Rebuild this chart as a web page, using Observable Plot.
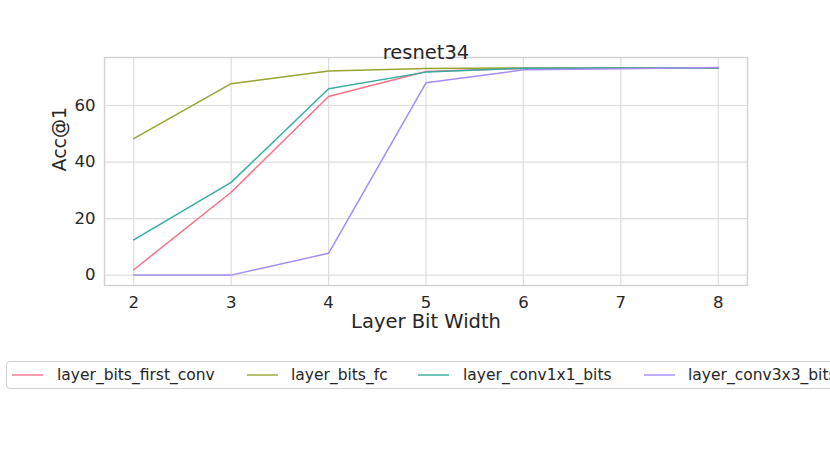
<!DOCTYPE html>
<html>
<head>
<meta charset="utf-8">
<script src="https://cdn.jsdelivr.net/npm/d3@7"></script>
<script src="https://cdn.jsdelivr.net/npm/@observablehq/plot@0.6"></script>
<style>
  html, body { margin: 0; padding: 0; background: #fff; overflow: hidden; width: 830px; height: 475px; }
  #wrap { position: relative; width: 830px; height: 475px; font-family: "DejaVu Sans", sans-serif; }
  #chart { position: absolute; left: 0; top: 0; }
  #legend { position: absolute; left: 6px; top: 361px; width: 900px; height: 28px; border: 1px solid #d2d2d2; border-radius: 4px; box-sizing: border-box; background: #fff; }
  .item { position: absolute; top: 0; height: 26px; line-height: 26px; font-size: 15.5px; color: #262626; white-space: nowrap; }
  .swatch { position: absolute; top: 12px; height: 2px; width: 31px; }
</style>
</head>
<body>
<div id="wrap"><div id="chart"></div><div id="legend"></div></div>
<script>
const bits = [2, 3, 4, 5, 6, 7, 8];
const seriesNames = ["layer_bits_first_conv", "layer_bits_fc", "layer_conv1x1_bits", "layer_conv3x3_bits"];
const seriesColors = ["#f77189", "#97a431", "#36ada4", "#a48cf4"];
const firstConv = [1.9, 29.3, 63.2, 72.0, 73.1, 73.2, 73.3];
const fc = [48.3, 67.7, 72.2, 73.1, 73.3, 73.3, 73.3];
const conv1x1 = [12.5, 32.8, 65.9, 71.8, 73.2, 73.3, 73.3];
const conv3x3 = [0.0, 0.0, 7.7, 68.0, 72.6, 73.0, 73.4];
const xTicks = [2, 3, 4, 5, 6, 7, 8];
const yTicks = [0, 20, 40, 60];
const title = "resnet34";
const xLabel = "Layer Bit Width";
const yLabel = "Acc@1";

const allSeries = [firstConv, fc, conv1x1, conv3x3];
const rows = [];
allSeries.forEach((vals, i) => vals.forEach((v, j) => rows.push({bits: bits[j], acc: v, series: seriesNames[i]})));

const textColor = "#262626";
const gridColor = "#dddddd";

const chart = Plot.plot({
  width: 830,
  height: 475,
  marginLeft: 104,
  marginRight: 83,
  marginTop: 57,
  marginBottom: 190,
  style: {fontFamily: "DejaVu Sans, sans-serif", color: textColor, background: "white"},
  x: {domain: [1.7, 8.3], ticks: xTicks, label: null},
  y: {domain: [-3.67, 76.97], ticks: yTicks, label: null},
  color: {domain: seriesNames, range: seriesColors},
  marks: [
    Plot.gridX(xTicks, {stroke: gridColor, strokeOpacity: 1, strokeWidth: 1.2}),
    Plot.gridY(yTicks, {stroke: gridColor, strokeOpacity: 1, strokeWidth: 1.2}),
    Plot.frame({stroke: "#d2d2d2", strokeWidth: 1.4}),
    Plot.axisX(xTicks, {tickSize: 0, tickPadding: 11, fontSize: 16.5, fill: textColor, label: null}),
    Plot.axisY(yTicks, {tickSize: 0, tickPadding: 9, fontSize: 16.5, fill: textColor, label: null}),
    Plot.line(rows, {x: "bits", y: "acc", z: "series", stroke: "series", strokeWidth: 1.5}),
    Plot.text([title], {text: d => d, frameAnchor: "top", dy: -12, fontSize: 19.5, fill: textColor}),
    Plot.text([xLabel], {text: d => d, frameAnchor: "bottom", dy: 42, fontSize: 19.5, fill: textColor}),
    Plot.text([yLabel], {text: d => d, frameAnchor: "left", dx: -45, rotate: -90, fontSize: 19, fill: textColor})
  ]
});
document.getElementById("chart").appendChild(chart);

const legend = document.getElementById("legend");
const swatchX = [5, 240, 411, 637];
const textX = [50, 284, 456, 681];
seriesNames.forEach((name, i) => {
  const sw = document.createElement("div");
  sw.className = "swatch";
  sw.style.left = swatchX[i] + "px";
  sw.style.background = seriesColors[i];
  sw.style.opacity = 0.7;
  legend.appendChild(sw);
  const t = document.createElement("div");
  t.className = "item";
  t.style.left = textX[i] + "px";
  t.textContent = name;
  legend.appendChild(t);
});
</script>
</body>
</html>
